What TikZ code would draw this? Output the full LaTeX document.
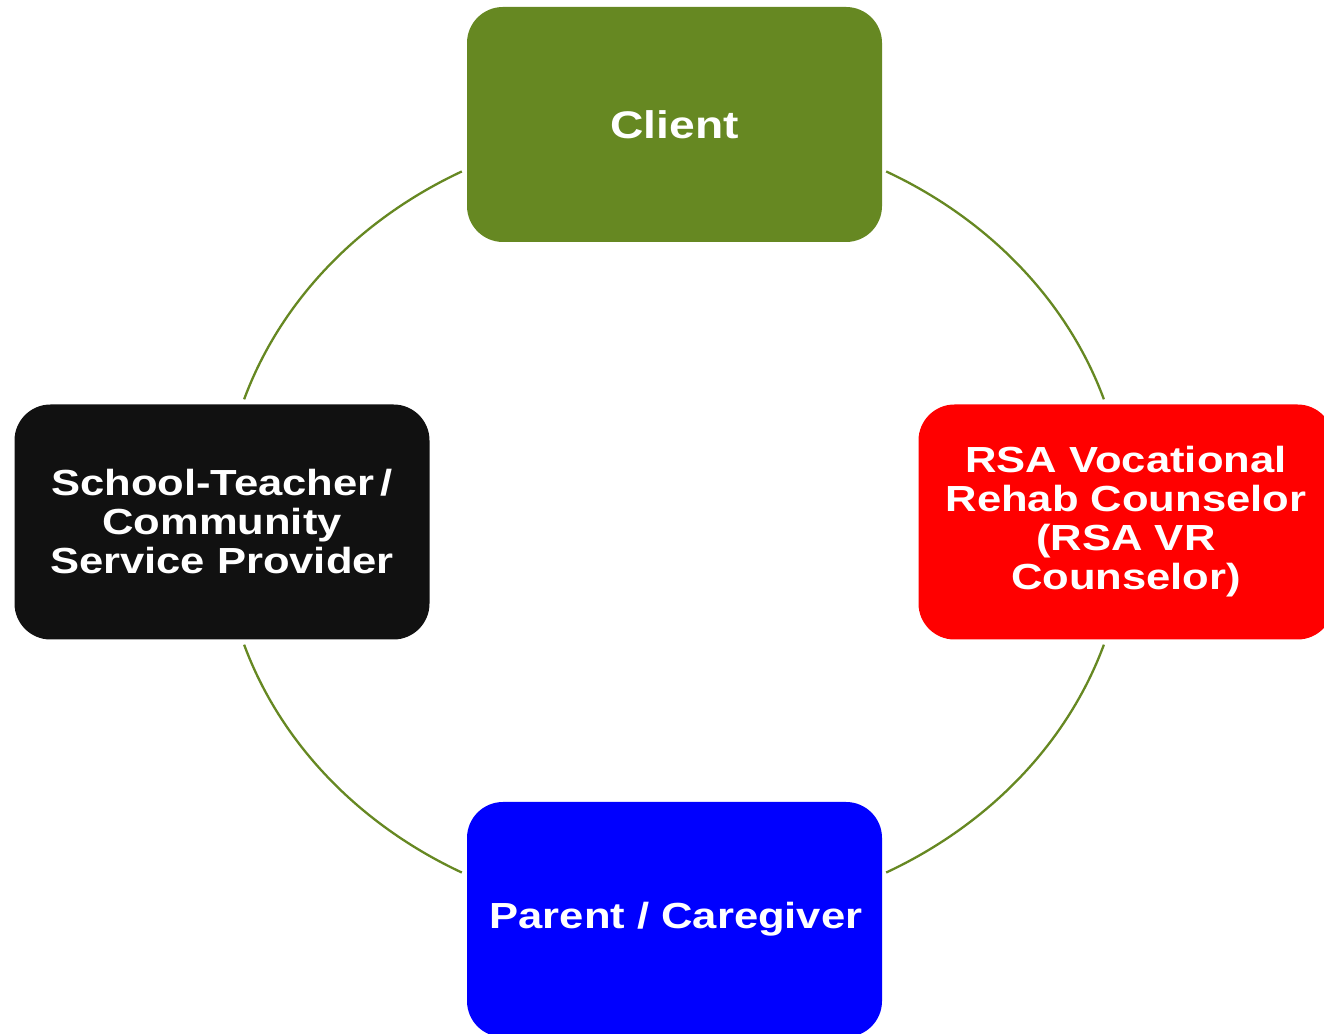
\documentclass[tikz,border=0pt]{standalone}
\usepackage{fontspec}
\setmainfont{Liberation Sans}[FakeStretch=1.2]
\definecolor{olivegreen}{HTML}{668822}
\definecolor{nearblack}{HTML}{111111}
\definecolor{pureblue}{HTML}{0000FF}
\definecolor{purered}{HTML}{FF0000}
\begin{document}
\begin{tikzpicture}[x=1pt,y=1pt,
  box/.style={rectangle, rounded corners=36pt, minimum width=415pt, minimum height=235pt,
    inner sep=0pt, text=white, align=center, font=\bfseries\fontsize{36.3}{39}\selectfont},
  ring/.style={draw=olivegreen, line width=2.3pt}]
\useasboundingbox (0,0) rectangle (1324,1033);
\coordinate (c) at (674,511);
\node[box, fill=olivegreen, font=\bfseries\fontsize{38.5}{42}\selectfont] (client) at (674.5,908.5) {Client};
\node[box, fill=nearblack] (school) at (222,511) {School-Teacher\,/\\Community\\Service Provider};
\node[box, fill=purered] (rsa) at (1126,511) {RSA Vocational\\Rehab Counselor\\(RSA VR\\Counselor)};
\node[box, fill=pureblue] (parent) at (674.5,113.5) {\hspace*{3pt}Parent / Caregiver};
\draw[ring] ([shift={(118:452 and 397)}]c) arc[start angle=118, end angle=162, x radius=452, y radius=397];
\draw[ring] ([shift={(198:452 and 397)}]c) arc[start angle=198, end angle=242, x radius=452, y radius=397];
\draw[ring] ([shift={(298:452 and 397)}]c) arc[start angle=298, end angle=342, x radius=452, y radius=397];
\draw[ring] ([shift={(18:452 and 397)}]c) arc[start angle=18, end angle=62, x radius=452, y radius=397];
\end{tikzpicture}
\end{document}
